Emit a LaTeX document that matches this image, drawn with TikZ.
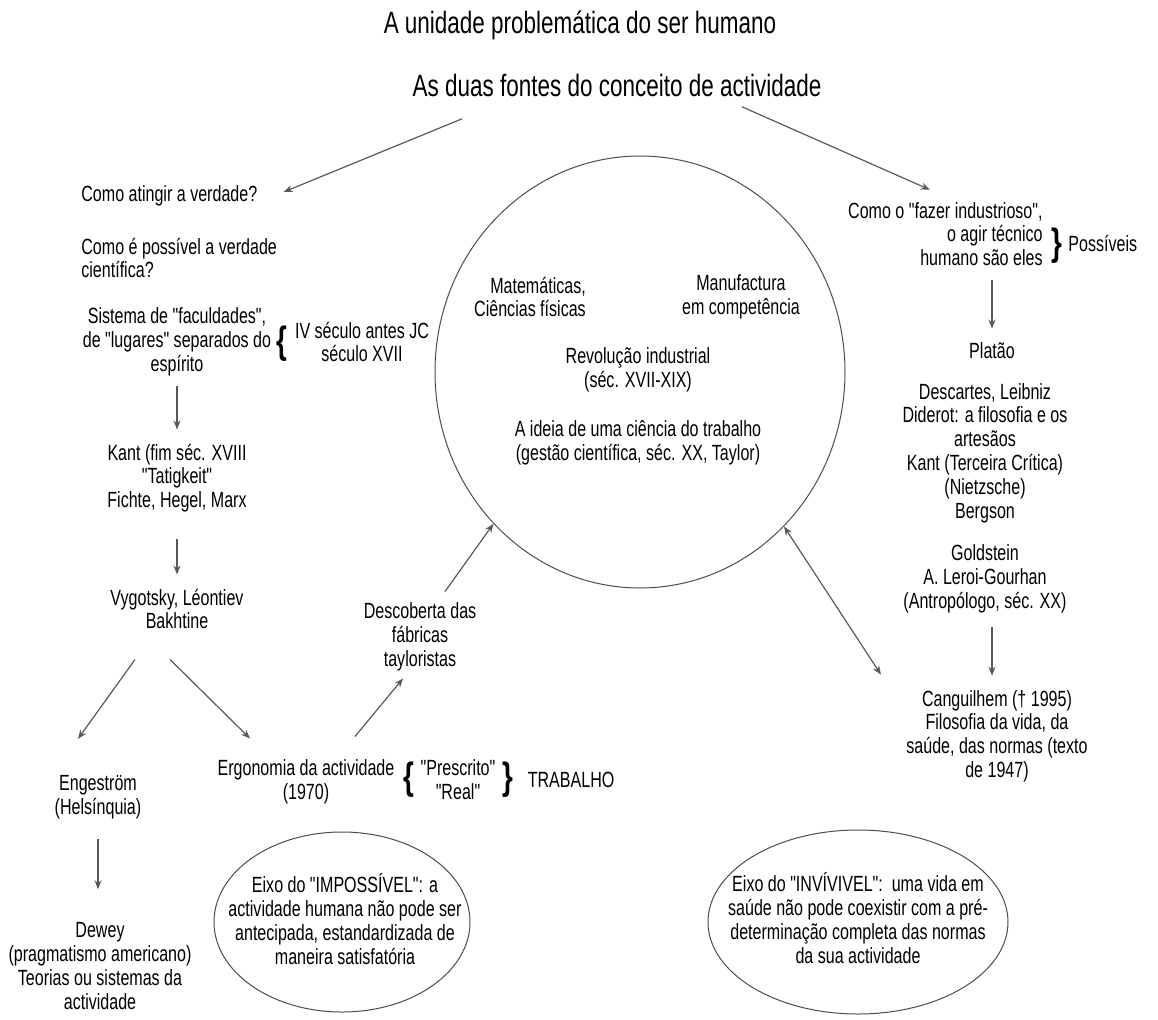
\documentclass[tikz,border=0pt]{standalone}
\usepackage{fontspec}
\newfontfamily\lsans[FakeStretch=0.73]{Liberation Sans}
\usetikzlibrary{positioning, calc, shapes.geometric, arrows.meta}

\begin{document}
\begin{tikzpicture}
	[x=0.5pt, y=-0.5pt,
	 tx/.style={align=center, inner sep=2pt, text=black,
	            font=\lsans\fontsize{11}{11.9}\selectfont},
	 hd/.style={inner sep=2pt, text=black, font=\lsans\fontsize{15.4}{17}\selectfont},
	 br/.style={inner sep=0pt, text=black, font=\lsans\bfseries\fontsize{19}{19}\selectfont},
	 ov/.style={draw=black!70, ellipse, inner sep=0pt, line width=0.5pt},
	 arr/.style={draw=black!65, line width=0.6pt, -{Stealth[length=4.5pt, width=3.5pt]}},
	 arr2/.style={arr, {Stealth[length=4.5pt, width=3.5pt]}-{Stealth[length=4.5pt, width=3.5pt]}}]
	\useasboundingbox (0,0) rectangle (1158,1019);

	\node[hd] (tit) at (580,25) {A unidade problemática do ser humano};
	\node[hd] (sub) at (617,85) {As duas fontes do conceito de actividade};

	% left column
	\node[tx, anchor=west] (q1) at (77,196) {Como atingir a verdade?};
	\node[tx, anchor=west, align=left] (q2) at (77,258) {Como é possível a verdade\\científica?};
	\node[tx] (sist) at (177,342) {Sistema de "faculdades",\\de "lugares" separados do\\espírito};
	\node[br] (b1) at (282,344) {\{};
	\node[tx] (sec) at (362,342) {IV século antes JC\\século XVII};
	\node[tx] (kant) at (177,478) {Kant (fim séc. XVIII\\"Tatigkeit"\\Fichte, Hegel, Marx};
	\node[tx] (vyg) at (177,609) {Vygotsky, Léontiev\\Bakhtine};
	\node[tx] (eng) at (98,797) {Engeström\\(Helsínquia)};
	\node[tx] (dew) at (100,966) {Dewey\\(pragmatismo americano)\\Teorias ou sistemas da\\actividade};
	\node[tx] (erg) at (306,782) {Ergonomia da actividade\\(1970)};
	\node[tx] (pr) at (458,780) {"Prescrito"\\"Real"};
	\node[br, left=1pt of pr] (b2) {\{};
	\node[br, right=1pt of pr] (b3) {\}};
	\node[tx, right=5pt of b3] (trab) {TRABALHO};
	\node[tx] (desc) at (420,637) {Descoberta das\\fábricas\\tayloristas};

	% centre
	\node[ov, minimum width=205pt, minimum height=216pt] (circ) at (640,372) {};
	\node[tx, align=right] (mat) at (530,297) {Matemáticas,\\Ciências físicas};
	\node[tx] (man) at (741,297) {Manufactura\\em competência};
	\node[tx] (rev) at (638,370) {Revolução industrial\\(séc. XVII-XIX)};
	\node[tx] (ide) at (638,443) {A ideia de uma ciência do trabalho\\(gestão científica, séc. XX, Taylor)};

	% right column
	\node[tx, align=right, anchor=east] (faz) at (1047,234) {Como o "fazer industrioso",\\o agir técnico\\humano são eles};
	\node[br] (b4) at (1057,246) {\}};
	\node[tx, anchor=west] (pos) at (1064,243) {Possíveis};
	\node[tx] (pla) at (992,351) {Platão};
	\node[tx] (des) at (985,453) {Descartes, Leibniz\\Diderot: a filosofia e os\\artesãos\\Kant (Terceira Crítica)\\(Nietzsche)\\Bergson};
	\node[tx] (gol) at (985,579) {Goldstein\\A. Leroi-Gourhan\\(Antropólogo, séc. XX)};
	\node[tx] (can) at (997,736) {Canguilhem († 1995)\\Filosofia da vida, da\\saúde, das normas (texto\\de 1947)};

	% bottom ellipses
	\node[ov, minimum width=128pt, minimum height=90pt] (imp) at (342,922) {};
	\node[tx] (impt) at (345,919) {Eixo do "IMPOSSÍVEL": a\\actividade humana não pode ser\\antecipada, estandardizada de\\maneira satisfatória};
	\node[ov, minimum width=150pt, minimum height=92pt] (inv) at (858,922) {};
	\node[tx] (invt) at (858,918) {Eixo do "INVÍVIVEL":\ \ uma vida em\\saúde não pode coexistir com a pré-\\determinação completa das normas\\da sua actividade};

	\draw[arr] ($(sub.south west)+(54,18)$) -- ($(q1.east)+(22,-4)$);
	\draw[arr] ($(sub.south east)+(-84,6)$) -- ($(faz.north west)+(86,-8)$);
	\draw[arr] ($(sist.south)+(0,6)$) -- ($(kant.north)+(0,-10)$);
	\draw[arr] ($(kant.south)+(0,22)$) -- ($(vyg.north)+(0,-10)$);
	\draw[arr] ($(vyg.south)+(-42,26)$) -- ($(eng.north)+(-20,-32)$);
	\draw[arr] ($(vyg.south)+(-7,26)$) -- ($(erg.north)+(-56,-17)$);
	\draw[arr] ($(eng.south)+(0,16)$) -- ($(eng.south |- dew.north)+(0,-29)$);
	\draw[arr] ($(erg.north)+(49,-19)$) -- ($(desc.south)+(-17,3)$);
	\draw[arr] ($(desc.north)+(25,-7)$) -- (circ.226);
	\draw[arr2] (circ.313) -- ($(can.north west)+(-21,-11)$);
	\draw[arr] ($(faz.south -| pla.north)+(0,10)$) -- ($(pla.north)+(0,-10)$);
	\draw[arr] ($(gol.south)+(7,10)$) -- ($(can.north)+(-5,-10)$);
\end{tikzpicture}
\end{document}
